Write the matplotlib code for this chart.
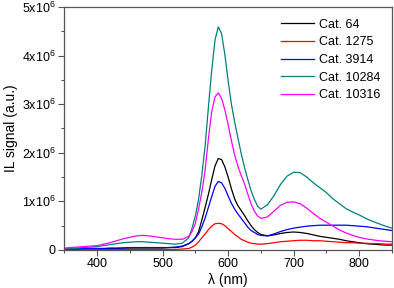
import matplotlib
matplotlib.use("Agg")
import matplotlib.pyplot as plt

plt.rcParams["font.family"] = ["Liberation Sans", "DejaVu Sans"]
plt.rcParams["mathtext.fontset"] = "custom"
plt.rcParams["mathtext.rm"] = "Liberation Sans"
plt.rcParams["mathtext.it"] = "Liberation Sans"

# wavelength grid (nm), finer around the main peak
wavelength = ([350, 360, 370, 380, 390, 400, 410, 420, 430, 440, 450, 460, 470,
               480, 490, 500, 510, 520, 530]
              + [540, 545, 550, 555, 560, 565, 570, 575, 580, 585, 590, 595, 600,
                 605, 610, 615, 620, 625, 630, 635, 640, 645]
              + [650, 660, 670, 680, 690, 700, 710, 720, 730, 740, 750, 760, 770,
                 780, 790, 800, 810, 820, 830, 840, 850])

# IL signal, units of 1e6 a.u.
cat_64 = ([0.02, 0.02, 0.02, 0.02, 0.03, 0.03, 0.03, 0.03, 0.03, 0.04, 0.04, 0.04, 0.04,
           0.04, 0.04, 0.04, 0.05, 0.05, 0.07]
          + [0.13, 0.18, 0.25, 0.38, 0.62, 0.88, 1.15, 1.45, 1.73, 1.88, 1.86, 1.71, 1.50,
             1.26, 1.05, 0.91, 0.81, 0.71, 0.60, 0.50, 0.42, 0.36]
          + [0.32, 0.29, 0.31, 0.34, 0.36, 0.37, 0.36, 0.34, 0.31, 0.28, 0.26, 0.24, 0.22,
             0.19, 0.17, 0.15, 0.13, 0.12, 0.11, 0.10, 0.10])
cat_1275 = ([0.01, 0.01, 0.01, 0.01, 0.01, 0.01, 0.01, 0.01, 0.01, 0.01, 0.01, 0.01, 0.01,
             0.01, 0.01, 0.01, 0.01, 0.01, 0.02]
            + [0.03, 0.06, 0.10, 0.17, 0.25, 0.33, 0.42, 0.49, 0.54, 0.55, 0.54, 0.50, 0.44,
               0.38, 0.32, 0.27, 0.22, 0.19, 0.16, 0.14, 0.13, 0.12]
            + [0.12, 0.13, 0.15, 0.17, 0.18, 0.19, 0.20, 0.20, 0.19, 0.19, 0.18, 0.17, 0.16,
               0.15, 0.15, 0.14, 0.14, 0.13, 0.13, 0.12, 0.12])
cat_3914 = ([0.02, 0.02, 0.02, 0.03, 0.03, 0.03, 0.03, 0.04, 0.04, 0.04, 0.05, 0.05, 0.05,
             0.05, 0.05, 0.05, 0.05, 0.06, 0.08]
            + [0.13, 0.18, 0.25, 0.33, 0.48, 0.66, 0.88, 1.10, 1.31, 1.41, 1.38, 1.27, 1.11,
               0.96, 0.84, 0.74, 0.65, 0.56, 0.47, 0.40, 0.36, 0.32]
            + [0.30, 0.29, 0.33, 0.38, 0.42, 0.45, 0.47, 0.49, 0.50, 0.51, 0.51, 0.51, 0.51,
               0.51, 0.50, 0.49, 0.48, 0.46, 0.44, 0.42, 0.40])
cat_10284 = ([0.02, 0.03, 0.04, 0.05, 0.06, 0.07, 0.09, 0.11, 0.13, 0.15, 0.16, 0.17, 0.17,
              0.16, 0.15, 0.14, 0.13, 0.12, 0.14]
             + [0.25, 0.45, 0.70, 1.05, 1.55, 2.15, 2.95, 3.70, 4.32, 4.59, 4.45, 4.02, 3.48,
                3.00, 2.63, 2.30, 1.98, 1.70, 1.45, 1.22, 1.04, 0.90]
             + [0.84, 0.93, 1.12, 1.35, 1.52, 1.60, 1.59, 1.50, 1.38, 1.28, 1.18, 1.05, 0.95,
                0.85, 0.78, 0.72, 0.65, 0.59, 0.54, 0.49, 0.45])
cat_10316 = ([0.04, 0.05, 0.06, 0.07, 0.08, 0.09, 0.12, 0.15, 0.19, 0.23, 0.26, 0.29, 0.30,
              0.29, 0.27, 0.25, 0.23, 0.22, 0.22]
             + [0.28, 0.38, 0.55, 0.85, 1.20, 1.65, 2.30, 2.85, 3.15, 3.23, 3.12, 2.88, 2.58,
                2.25, 1.95, 1.72, 1.53, 1.36, 1.15, 0.95, 0.80, 0.70]
             + [0.65, 0.68, 0.80, 0.92, 0.98, 0.99, 0.95, 0.86, 0.75, 0.65, 0.57, 0.49, 0.41,
                0.35, 0.30, 0.26, 0.23, 0.21, 0.19, 0.18, 0.17])

series = [
    ("Cat. 64", cat_64, "black"),
    ("Cat. 1275", cat_1275, "#ff0000"),
    ("Cat. 3914", cat_3914, "#0000ff"),
    ("Cat. 10284", cat_10284, "#008080"),
    ("Cat. 10316", cat_10316, "#ff00ff"),
]

y_ticks = [0, 1e6, 2e6, 3e6, 4e6, 5e6]
y_ticklabels = ["0", "1x10$^6$", "2x10$^6$", "3x10$^6$", "4x10$^6$", "5x10$^6$"]
x_ticks = [400, 500, 600, 700, 800]

fig = plt.figure(figsize=(3.94, 2.88), dpi=100)
ax = fig.add_axes([0.163, 0.132, 0.832, 0.844])

for label, vals, color in series:
    ax.plot(wavelength, [v * 1e6 for v in vals], color=color, lw=0.9, label=label,
            solid_joinstyle="round")

ax.set_xlim(350, 850)
ax.set_ylim(0, 5e6)
ax.set_xticks(x_ticks)
ax.set_xticks(range(350, 851, 50), minor=True)
ax.set_yticks(y_ticks)
ax.set_yticklabels(y_ticklabels)
ax.set_yticks([i * 0.5e6 for i in range(11)], minor=True)

axis_col = "#555555"
for s in ax.spines.values():
    s.set_color(axis_col)
    s.set_linewidth(0.9)
ax.tick_params(which="major", direction="out", length=4, width=0.8,
               color=axis_col, labelsize=9, pad=2)
ax.tick_params(which="minor", direction="out", length=2.5, width=0.8, color=axis_col)

ax.set_xlabel("λ (nm)", fontsize=10, labelpad=2)
ax.set_ylabel("IL signal (a.u.)", fontsize=10, labelpad=3)

ax.legend(loc="upper right", frameon=False, fontsize=9, handlelength=2.6,
          handletextpad=0.4, labelspacing=0.45, borderaxespad=0.55)

fig.savefig("out.png", dpi=100, facecolor="white")
